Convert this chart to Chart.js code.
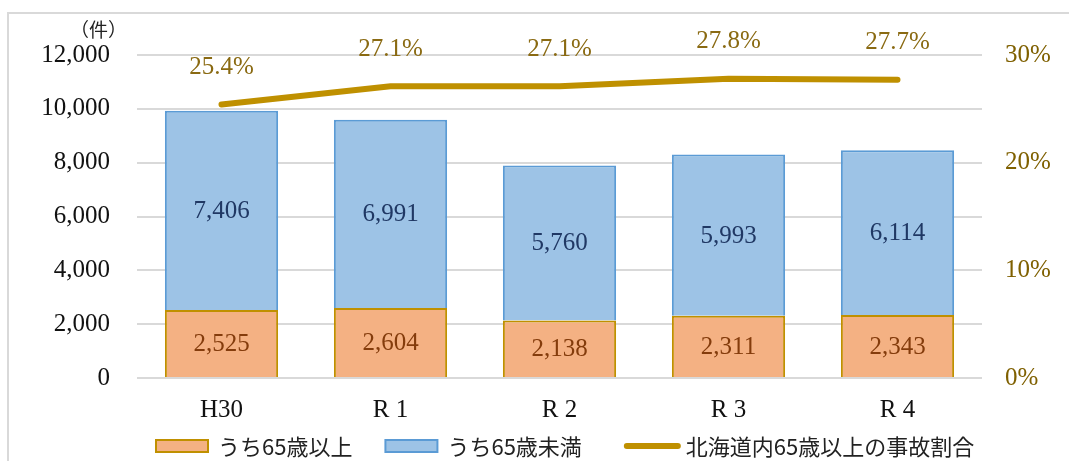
<!DOCTYPE html>
<html><head><meta charset="utf-8">
<script src="https://cdn.jsdelivr.net/npm/chart.js@4/dist/chart.umd.min.js"></script>
<style>
html,body{margin:0;padding:0;background:#fff;}
#wrap{position:relative;width:1069px;height:461px;overflow:hidden;}
#frame{position:absolute;left:7px;top:12px;width:1100px;height:500px;border:2px solid #d9d9d9;box-sizing:border-box;pointer-events:none;}
</style></head>
<body>
<div id="wrap"><canvas id="c" width="1069" height="461"></canvas><div id="frame"></div></div>
<script>
const categories = ["H30", "R 1", "R 2", "R 3", "R 4"];
const over65 = [2525, 2604, 2138, 2311, 2343];
const under65 = [7406, 6991, 5760, 5993, 6114];
const ratio = [0.254, 0.271, 0.271, 0.278, 0.277];
const seriesNames = ["うち65歳以上", "うち65歳未満", "北海道内65歳以上の事故割合"];
const leftTicks = [0, 2000, 4000, 6000, 8000, 10000, 12000];
const rightTicks = [0, 0.1, 0.2, 0.3];
const unitLabel = "（件）";

const SERIF = "'Liberation Serif', 'DejaVu Serif', serif";
const CJK = "'Noto Sans CJK JP', sans-serif";

const labelPlugin = {
  id: 'labels',
  afterDatasetsDraw(chart) {
    const ctx = chart.ctx;
    ctx.save();
    ctx.textAlign = 'center';
    ctx.textBaseline = 'middle';
    ctx.font = '25px ' + SERIF;
    const colors = ['#843C0C', '#203864'];
    [0, 1].forEach(di => {
      const meta = chart.getDatasetMeta(di);
      meta.data.forEach((el, i) => {
        ctx.fillStyle = colors[di];
        const v = chart.data.datasets[di].data[i];
        ctx.fillText(v.toLocaleString('en-US'), el.x, (el.y + el.base) / 2 + 1);
      });
    });
    const lm = chart.getDatasetMeta(2);
    ctx.fillStyle = '#8A6A12';
    lm.data.forEach((el, i) => {
      ctx.fillText((ratio[i] * 100).toFixed(1) + '%', el.x, el.y - 37);
    });
    ctx.font = '19px ' + CJK;
    ctx.fillStyle = '#222';
    ctx.textAlign = 'right';
    ctx.fillText(unitLabel, chart.chartArea.left - 10, chart.chartArea.top - 25);

    // legend
    const ds = chart.data.datasets;
    const ly = 446;
    let x = 156;
    ctx.font = '22px ' + CJK;
    ctx.textAlign = 'left';
    ds.forEach((d, i) => {
      if (i < 2) {
        ctx.fillStyle = d.backgroundColor;
        ctx.fillRect(x, ly - 6, 52, 12);
        ctx.strokeStyle = d.borderColor;
        ctx.lineWidth = 2;
        ctx.strokeRect(x, ly - 6, 52, 12);
        x += 62;
      } else {
        ctx.strokeStyle = d.borderColor;
        ctx.lineWidth = 6;
        ctx.lineCap = 'round';
        ctx.beginPath();
        ctx.moveTo(x + 3, ly);
        ctx.lineTo(x + 54, ly);
        ctx.stroke();
        x += 62;
      }
      ctx.fillStyle = '#222';
      ctx.fillText(d.label, x, ly + 1);
      x += ctx.measureText(d.label).width + (i === 0 ? 33 : 42);
    });
    ctx.restore();
  }
};

new Chart(document.getElementById('c'), {
  data: {
    labels: categories,
    datasets: [
      { type: 'bar', label: seriesNames[0], data: over65, backgroundColor: '#F4B183', borderColor: '#C09000', borderWidth: 2, yAxisID: 'y', stack: 's', order: 2, barPercentage: 0.67, categoryPercentage: 1 },
      { type: 'bar', label: seriesNames[1], data: under65, backgroundColor: '#9DC3E6', borderColor: '#5B9BD5', borderWidth: 2, yAxisID: 'y', stack: 's', order: 2, barPercentage: 0.67, categoryPercentage: 1 },
      { type: 'line', label: seriesNames[2], data: ratio, borderColor: '#BF9000', backgroundColor: '#BF9000', borderWidth: 6, borderCapStyle: 'round', pointRadius: 0, yAxisID: 'y1', order: 1, tension: 0 }
    ]
  },
  options: {
    responsive: false,
    animation: false,
    events: [],
    layout: { padding: { left: 0, right: 0, top: 55, bottom: 0 } },
    plugins: {
      tooltip: { enabled: false },
      legend: { display: false }
    },
    scales: {
      x: {
        stacked: true,
        grid: { display: false },
        border: { display: false },
        ticks: { color: '#111', font: { family: SERIF, size: 25 }, padding: 9 },
        afterFit(s) { s.height = 83; }
      },
      y: {
        stacked: true,
        position: 'left',
        min: 0, max: 12000,
        afterBuildTicks(s) { s.ticks = leftTicks.map(v => ({ value: v })); },
        grid: { color: '#D9D9D9', lineWidth: 2, drawTicks: false },
        border: { display: false },
        ticks: { color: '#111', font: { family: SERIF, size: 25 }, padding: 27, callback: v => v.toLocaleString('en-US') },
        afterFit(s) { s.width = 137; }
      },
      y1: {
        position: 'right',
        min: 0, max: 0.3,
        afterBuildTicks(s) { s.ticks = rightTicks.map(v => ({ value: v })); },
        grid: { display: false, drawTicks: false },
        border: { display: false },
        ticks: { color: '#7F6000', font: { family: SERIF, size: 25 }, padding: 23, callback: v => Math.round(v * 100) + '%' },
        afterFit(s) { s.width = 87; }
      }
    }
  },
  plugins: [labelPlugin]
});
</script>
</body></html>
